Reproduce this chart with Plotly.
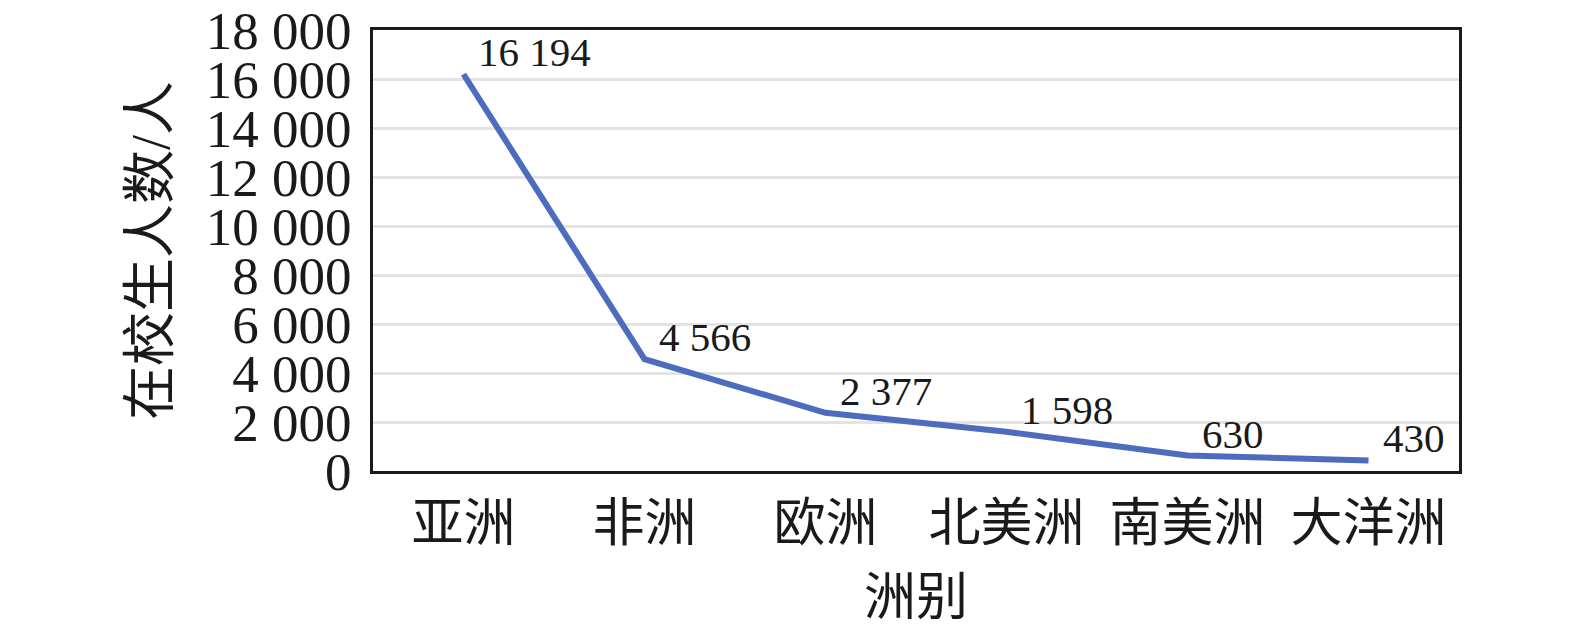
"""Line chart: enrolled students by continent."""

import plotly.graph_objects as go

continents = ["亚洲", "非洲", "欧洲", "北美洲", "南美洲", "大洋洲"]
students = [16194, 4566, 2377, 1598, 630, 430]
y_ticks = [0, 2000, 4000, 6000, 8000, 10000, 12000, 14000, 16000, 18000]

SERIF = "Liberation Serif, Noto Sans CJK SC"
INK = "#1a1a1a"


def spaced(value: int) -> str:
    return f"{value:,}".replace(",", " ")


fig = go.Figure(
    go.Scatter(
        x=continents,
        y=students,
        mode="lines",
        line=dict(color="#4e6cbd", width=6),
        showlegend=False,
        hoverinfo="skip",
    )
)

for continent, value in zip(continents, students):
    fig.add_annotation(
        x=continent,
        y=value,
        text=spaced(value),
        showarrow=False,
        xanchor="left",
        yanchor="bottom",
        xshift=12,
        yshift=-3,
        font=dict(family="Liberation Serif", size=41, color=INK),
    )

fig.update_layout(
    width=1575,
    height=631,
    margin=dict(l=373, r=116, t=30, b=160, autoexpand=False),
    paper_bgcolor="white",
    plot_bgcolor="white",
    font=dict(family=SERIF, color=INK),
)

fig.update_xaxes(
    type="category",
    range=[-0.5, len(continents) - 0.5],
    automargin=False,
    showgrid=False,
    showline=True,
    linecolor=INK,
    linewidth=3,
    mirror=True,
    ticks="",
    ticklabelstandoff=5,
    tickfont=dict(size=52),
    title=dict(text="洲别", font=dict(size=52), standoff=28),
)

fig.update_yaxes(
    range=[0, 18000],
    automargin=False,
    tickvals=y_ticks,
    ticktext=[spaced(v) for v in y_ticks],
    ticklabeloverflow="allow",
    showgrid=True,
    gridcolor="#e3e3e3",
    gridwidth=3,
    zeroline=False,
    showline=True,
    linecolor=INK,
    linewidth=3,
    mirror=True,
    ticks="",
    ticklabelstandoff=8,
    tickfont=dict(size=53),
    title=dict(text="在校生人数/人", font=dict(size=54), standoff=19),
)

# the browser's default 8px body margin would push the figure off its frame
fig.write_html(
    "out.html",
    config={"displayModeBar": False},
    post_script="document.body.style.margin = '0';",
)
